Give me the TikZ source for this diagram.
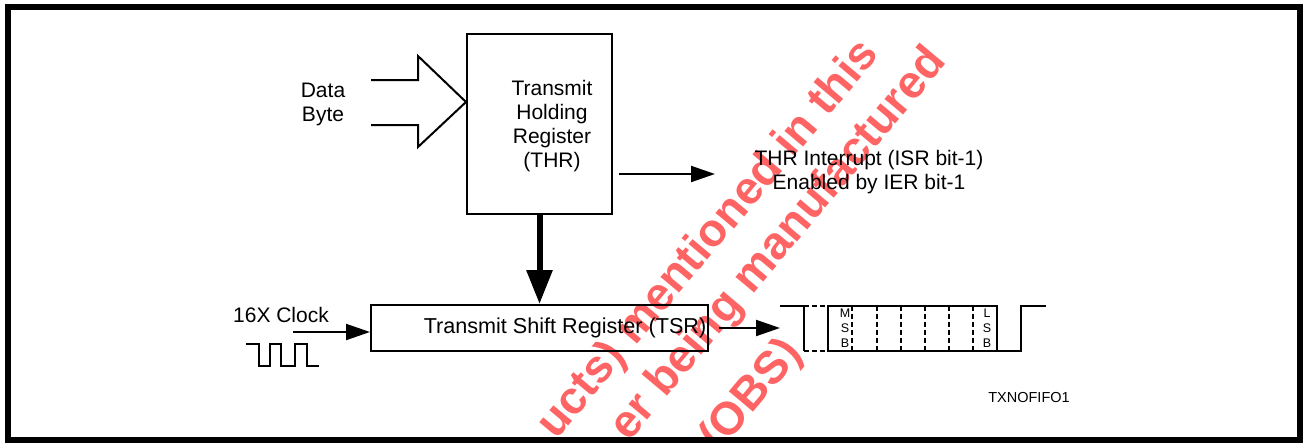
\documentclass[tikz,border=0pt]{standalone}
\usepackage{fontspec}
\setmainfont{Liberation Sans}
\usetikzlibrary{arrows.meta}
\definecolor{wmred}{RGB}{255,100,100}

\begin{document}
\begin{tikzpicture}[x=1pt,y=-1pt]
  \tikzstyle{box}=[draw, line width=2pt, inner sep=0pt]
  \tikzstyle{txt}=[font=\fontsize{21}{24}\selectfont, align=center, inner sep=0pt]
  \tikzstyle{arr}=[line width=2pt, -{Triangle[length=24pt,width=16pt]}]
  \tikzstyle{fat}=[line width=6pt, -{Triangle[length=34pt,width=25pt]}]
  \tikzstyle{wave}=[line width=2pt]
  \tikzstyle{bit}=[dash pattern=on 5pt off 3pt]
  \tikzstyle{wm}=[text=wmred, font=\bfseries\fontsize{46}{57}\selectfont, rotate=50, inner sep=0pt, anchor=base east]
  \useasboundingbox (0,0) rectangle (1303,444);
  \begin{scope}
    \clip (8,7) rectangle (1300,440);
    \node[wm] (wmone) at (880,55) {ucts) mentioned in this};
    \node[wm] (wmtwo) at (948,62) {er being manufactured};
    \node[wm] (wmthree) at (803,354) {(OBS)};
  \end{scope}
  \node[box, minimum width=145pt, minimum height=180pt] (thr) at (539.5,124) {};
  \node[txt] (thrtext) at (552,126) {Transmit\\Holding\\Register\\(THR)};
  \node[box, minimum width=337pt, minimum height=46pt] (tsr) at (539.5,328) {};
  \node[txt, font=\fontsize{21.6}{24}\selectfont] (tsrtext) at (565,328) {Transmit Shift Register (TSR)};
  \node[txt] (databyte) at (323,104) {Data\\Byte};
  \node[txt] (irq) at (869,172) {THR Interrupt (ISR bit-1)\\Enabled by IER bit-1};
  \node[txt] (clock) at (281,315) {16X Clock};
  \node[txt, font=\fontsize{14.5}{17}\selectfont] (fig) at (1029,398) {TXNOFIFO1};
  \coordinate (dbtip) at (466,102);
  \draw[wave] (371,80) -- (418,80) -- (418,56) -- (dbtip) -- (418,147) -- (418,125) -- (371,125);
  \draw[fat] (thr.south) -- (tsr.north);
  \coordinate (irqstart) at (619,174);
  \draw[arr] (irqstart) -- ++(96,0);
  \coordinate (clkstart) at (293,332);
  \draw[arr] (clkstart) -- (clkstart -| tsr.west);
  \draw[arr] ([xshift=10pt]tsr.east) -- ++(61,0);
  \draw[wave] (246,344) -- (259,344) -- (259,366) -- (270,366) -- (270,344) -- (281,344) -- (281,366)
    -- (295,366) -- (295,344) -- (307,344) -- (307,366) -- (319,366);
  \draw[wave] (780,306) -- (804,306) -- (804,351);
  \draw[wave, bit] (804,306) -- (828,306);
  \draw[wave, bit] (804,351) -- (828,351);
  \draw[wave] (828,306) rectangle (997,351);
  \draw[wave] (997,351) -- (1021,351) -- (1021,306) -- (1046,306);
  \foreach \x in {852,877,901,925,949,973}
    \draw[wave, bit] (\x,306) -- (\x,351);
  \node[txt, font=\fontsize{12.5}{15}\selectfont] (msb) at (845,328) {M\\S\\B};
  \node[txt, font=\fontsize{12.5}{15}\selectfont] (lsb) at (987,328) {L\\S\\B};
  \draw[line width=6pt] (8,7) rectangle (1300,440);
\end{tikzpicture}
\end{document}
